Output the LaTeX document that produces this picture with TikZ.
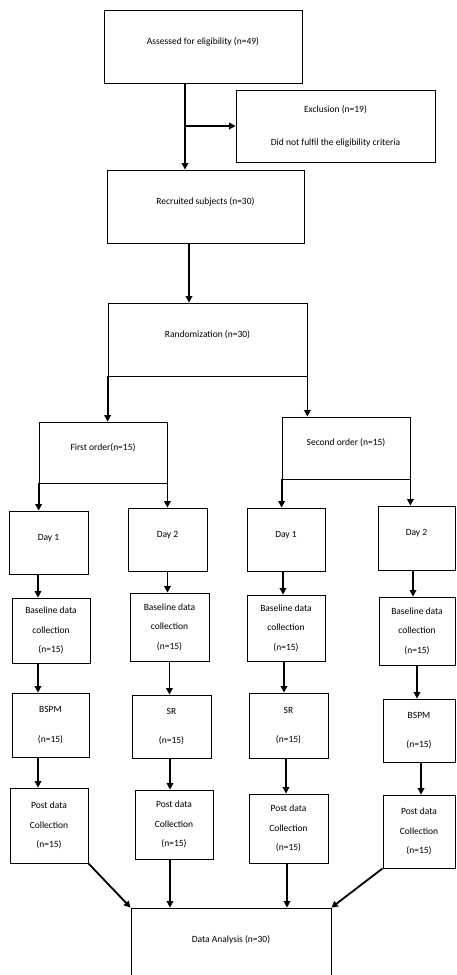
\documentclass[tikz,border=0pt]{standalone}
\usepackage{fontspec}
\setmainfont{Carlito}
\usetikzlibrary{arrows.meta}
\tikzstyle{box} = [
 rectangle,
 draw=black,
 line width=0.8pt,
 inner sep=0pt,
 align=center,
 font=\fontsize{9.5}{19.5}\selectfont
]
\tikzstyle{onebox} = [
 box,
 text height=7pt,
 text depth=12pt
]
\tikzstyle{line} = [
 draw=black,
 line width=1.8pt,
 -{Triangle[length=6.5pt,width=6.5pt]}
]
\begin{document}
\begin{tikzpicture}[x=1pt,y=-1pt]
  \useasboundingbox (0,0) rectangle (456,975);
  \node [onebox, minimum width=198pt, minimum height=73pt] (assessed) at (203,46.5) {Assessed for eligibility (n=49)};
  \node [box, minimum width=199pt, minimum height=72pt] (exclusion) at (335.5,126) {Exclusion (n=19)\\[13.5pt] Did not fulfil the eligibility criteria};
  \node [onebox, minimum width=197pt, minimum height=73pt] (recruited) at (205.5,206.5) {Recruited subjects (n=30)};
  \node [onebox, minimum width=199pt, minimum height=73pt] (random) at (207.5,339.5) {Randomization (n=30)};
  \node [onebox, minimum width=128pt, minimum height=61pt] (first) at (103,452.5) {First order(n=15)};
  \node [onebox, minimum width=128pt, minimum height=62pt] (second) at (346,448) {Second order (n=15)};
  \node [onebox, minimum width=79pt, minimum height=63pt] (dayonea) at (48.5,542.5) {Day 1};
  \node [onebox, minimum width=79pt, minimum height=63pt] (daytwoa) at (167.5,539.5) {Day 2};
  \node [onebox, minimum width=78pt, minimum height=63pt] (dayoneb) at (286,539.5) {Day 1};
  \node [onebox, minimum width=77pt, minimum height=64pt] (daytwob) at (416.5,538) {Day 2};
  \node [box, minimum width=78pt, minimum height=65pt] (basea) at (51,630.5) {Baseline data\\ collection\\ (n=15)};
  \node [box, minimum width=79pt, minimum height=68pt] (baseb) at (169.5,627) {Baseline data\\ collection\\ (n=15)};
  \node [box, minimum width=78pt, minimum height=66pt] (basec) at (286,628) {Baseline data\\ collection\\ (n=15)};
  \node [box, minimum width=76pt, minimum height=68pt] (based) at (417,631) {Baseline data\\ collection\\ (n=15)};
  \node [box, minimum width=77pt, minimum height=64pt] (bspma) at (50.5,725) {BSPM\\[10pt] (n=15)};
  \node [box, minimum width=79pt, minimum height=63pt] (srb) at (171.5,726.5) {SR\\[10pt] (n=15)};
  \node [box, minimum width=79pt, minimum height=65pt] (src) at (288.5,725.5) {SR\\[10pt] (n=15)};
  \node [box, minimum width=72pt, minimum height=63pt] (bspmd) at (419,730.5) {BSPM\\[10pt] (n=15)};
  \node [box, minimum width=78pt, minimum height=75pt] (posta) at (49,825.5) {Post data\\ Collection\\ (n=15)};
  \node [box, minimum width=78pt, minimum height=69pt] (postb) at (174,824.5) {Post data\\ Collection\\ (n=15)};
  \node [box, minimum width=79pt, minimum height=69pt] (postc) at (288.5,828.5) {Post data\\ Collection\\ (n=15)};
  \node [box, minimum width=72pt, minimum height=73pt] (postd) at (419,831.5) {Post data\\ Collection\\ (n=15)};
  \node [onebox, minimum width=200pt, minimum height=73pt] (analysis) at (231,944.5) {Data Analysis (n=30)};

  \draw [line] ([xshift=-18pt]assessed.south) -- ([xshift=-18pt]assessed.south |- recruited.north);
  \draw [line] ([xshift=-18pt]assessed.south |- exclusion.west) -- (exclusion.west);
  \draw [line] ([xshift=-16.5pt]recruited.south) -- ([xshift=-16.5pt]recruited.south |- random.north);
  \draw [line] (random.south west) -- (random.south west |- first.north);
  \draw [line] (random.south east) -- (random.south east |- second.north);
  \draw [line] (first.south west) -- (first.south west |- dayonea.north);
  \draw [line] (first.south east) -- (first.south east |- daytwoa.north);
  \draw [line] (second.south west) -- (second.south west |- dayoneb.north);
  \draw [line] (second.south east) -- (second.south east |- daytwob.north);
  \draw [line] ([xshift=-10.5pt]dayonea.south) -- ([xshift=-10.5pt]dayonea.south |- basea.north);
  \draw [line] (daytwoa.south) -- (daytwoa.south |- baseb.north);
  \draw [line] ([xshift=-3pt]dayoneb.south) -- ([xshift=-3pt]dayoneb.south |- basec.north);
  \draw [line] ([xshift=-3.5pt]daytwob.south) -- ([xshift=-3.5pt]daytwob.south |- based.north);
  \draw [line] ([xshift=-13pt]basea.south) -- ([xshift=-13pt]basea.south |- bspma.north);
  \draw [line] (baseb.south) -- (baseb.south |- srb.north);
  \draw [line] ([xshift=-2pt]basec.south) -- ([xshift=-2pt]basec.south |- src.north);
  \draw [line] (based.south) -- (based.south |- bspmd.north);
  \draw [line] ([xshift=-12.5pt]bspma.south) -- ([xshift=-12.5pt]bspma.south |- posta.north);
  \draw [line] ([xshift=-1.5pt]srb.south) -- ([xshift=-1.5pt]srb.south |- postb.north);
  \draw [line] ([xshift=-2.5pt]src.south) -- ([xshift=-2.5pt]src.south |- postc.north);
  \draw [line] ([xshift=2pt]bspmd.south) -- ([xshift=2pt]bspmd.south |- postd.north);
  \draw [line] (posta.south east) -- (analysis.north west);
  \draw [line] ([xshift=-4pt]postb.south) -- ([xshift=-4pt]postb.south |- analysis.north);
  \draw [line] ([xshift=-1.5pt]postc.south) -- ([xshift=-1.5pt]postc.south |- analysis.north);
  \draw [line] (postd.south west) -- (analysis.north east);
\end{tikzpicture}
\end{document}
